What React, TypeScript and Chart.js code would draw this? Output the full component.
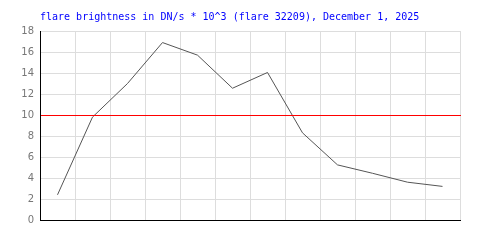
import React, { useEffect, useRef } from "react";
import { Chart, registerables } from "chart.js";

Chart.register(...registerables);

const titleText = "flare brightness in DN/s * 10^3 (flare 32209), December 1, 2025";
const categories = ["1", "2", "3", "4", "5", "6", "7", "8", "9", "10", "11", "12"];
const brightness = [2.4, 9.8, 13.0, 16.9, 15.7, 12.55, 14.05, 8.3, 5.25, 4.45, 3.6, 3.2];
const thresholdValue = 10;
const yMin = 0;
const yMax = 18;
const yStep = 2;

const overlayPlugin = {
  id: "overlay",
  afterDatasetsDraw(chart: any) {
    const { ctx, chartArea, scales } = chart;
    const y = Math.floor(scales.y.getPixelForValue(thresholdValue));
    ctx.save();
    ctx.fillStyle = "#ff0000";
    ctx.fillRect(Math.round(chartArea.left) + 1, y, Math.round(chartArea.right - chartArea.left), 1);
    ctx.restore();
  },
  afterDraw(chart: any) {
    const { ctx, chartArea } = chart;
    ctx.save();
    ctx.fillStyle = "#0000ff";
    ctx.font = "10px 'DejaVu Sans Mono'";
    ctx.textAlign = "left";
    ctx.textBaseline = "alphabetic";
    ctx.fillText(titleText, chartArea.left, 19.5);
    ctx.restore();
  },
};

export default function App() {
  const ref = useRef<HTMLCanvasElement>(null);
  useEffect(() => {
    document.body.style.margin = "0";
    const chart = new Chart(ref.current as HTMLCanvasElement, {
      type: "line",
      data: {
        labels: categories,
        datasets: [
          {
            data: brightness,
            borderColor: "#555555",
            borderWidth: 1,
            pointRadius: 0,
            tension: 0,
            fill: false,
          },
        ],
      },
      options: {
        responsive: false,
        animation: false,
        layout: { padding: { top: 31, right: 40, bottom: 0, left: 0 } },
        plugins: { legend: { display: false }, title: { display: false }, tooltip: { enabled: false } },
        scales: {
          x: {
            type: "category",
            offset: true,
            grid: { offset: true, color: "#dddddd", drawTicks: false },
            border: { color: "#000000", width: 1 },
            ticks: { display: false },
            afterFit: (s: any) => {
              s.height = 30;
            },
          },
          y: {
            min: yMin,
            max: yMax,
            grid: { color: "#dddddd", drawTicks: false },
            border: { color: "#000000", width: 1 },
            ticks: {
              stepSize: yStep,
              padding: 6,
              color: "#777777",
              font: { family: "'DejaVu Sans'", size: 10 },
            },
            afterFit: (s: any) => {
              s.width = 40;
            },
          },
        },
      },
      plugins: [overlayPlugin],
    });
    return () => chart.destroy();
  }, []);
  return (
    <div style={{ width: 500, height: 250, background: "#fff" }}>
      <canvas ref={ref} width={500} height={250} />
    </div>
  );
}
